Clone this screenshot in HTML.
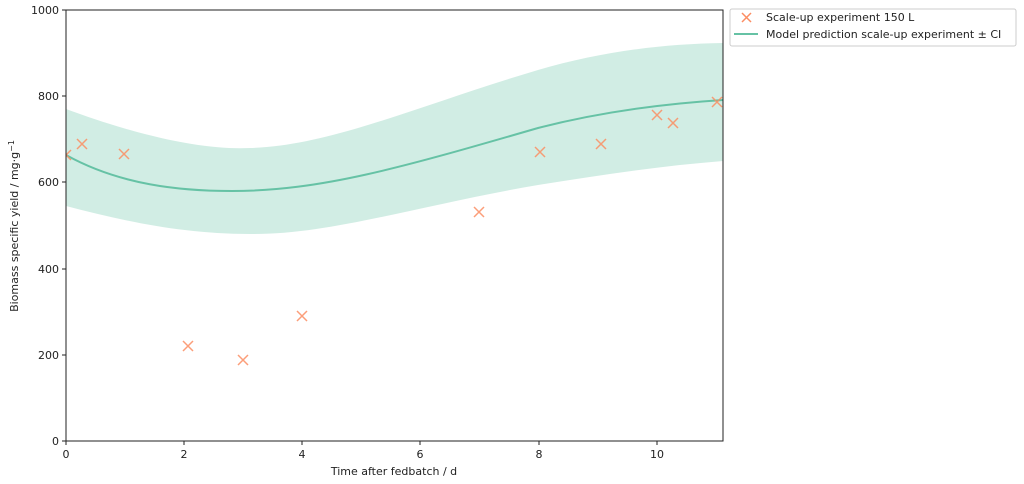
<!DOCTYPE html>
<html><head><style>body{margin:0;background:#fff}svg{display:block}text{font-family:"DejaVu Sans","Liberation Sans",sans-serif;font-size:11px;fill:#222}</style></head>
<body>
<svg width="1024" height="484" viewBox="0 0 1024 484">
<defs><clipPath id="c"><rect x="66" y="10" width="657" height="431"/></clipPath></defs>
<g clip-path="url(#c)">
<path d="M66,109 C150,140 210,150 250,148 C330,146 420,105 538,70 C600,52 660,44 723,43 L723,161 C660,166 600,175 538,185 C420,205 330,235 250,234 C180,234 120,220 66,206 Z" fill="#66c2a5" fill-opacity="0.3"/>
<path d="M66,155 C120,185 180,191 232,191 C320,191 400,168 538,128 C600,112 660,104 723,100" fill="none" stroke="#66c2a5" stroke-width="2"/>
<g stroke="#fc8d62" stroke-opacity="0.85" stroke-width="1.5" fill="none">
<path id="m" d="M-5,-5L5,5M-5,5L5,-5" transform="translate(66,155)"/>
<path d="M-5,-5L5,5M-5,5L5,-5" transform="translate(82,144)"/>
<path d="M-5,-5L5,5M-5,5L5,-5" transform="translate(124,154)"/>
<path d="M-5,-5L5,5M-5,5L5,-5" transform="translate(188,346)"/>
<path d="M-5,-5L5,5M-5,5L5,-5" transform="translate(243,360)"/>
<path d="M-5,-5L5,5M-5,5L5,-5" transform="translate(302,316)"/>
<path d="M-5,-5L5,5M-5,5L5,-5" transform="translate(479,212)"/>
<path d="M-5,-5L5,5M-5,5L5,-5" transform="translate(540,152)"/>
<path d="M-5,-5L5,5M-5,5L5,-5" transform="translate(601,144)"/>
<path d="M-5,-5L5,5M-5,5L5,-5" transform="translate(657,115)"/>
<path d="M-5,-5L5,5M-5,5L5,-5" transform="translate(673,123)"/>
<path d="M-5,-5L5,5M-5,5L5,-5" transform="translate(717,102)"/>
</g>
</g>
<rect x="66" y="10" width="657" height="431" fill="none" stroke="#222" stroke-width="1"/>
<g stroke="#222">
<line x1="66" y1="441" x2="66" y2="445"/><line x1="184" y1="441" x2="184" y2="445"/><line x1="302" y1="441" x2="302" y2="445"/><line x1="420" y1="441" x2="420" y2="445"/><line x1="539" y1="441" x2="539" y2="445"/><line x1="657" y1="441" x2="657" y2="445"/>
<line x1="62" y1="441" x2="66" y2="441"/><line x1="62" y1="355" x2="66" y2="355"/><line x1="62" y1="269" x2="66" y2="269"/><line x1="62" y1="182" x2="66" y2="182"/><line x1="62" y1="96" x2="66" y2="96"/><line x1="62" y1="10" x2="66" y2="10"/>
</g>
<g text-anchor="middle">
<text x="66" y="458">0</text><text x="184" y="458">2</text><text x="302" y="458">4</text><text x="420" y="458">6</text><text x="539" y="458">8</text><text x="657" y="458">10</text>
<text x="394" y="475">Time after fedbatch / d</text>
</g>
<g text-anchor="end">
<text x="59" y="445">0</text><text x="59" y="359">200</text><text x="59" y="273">400</text><text x="59" y="186">600</text><text x="59" y="100">800</text><text x="59" y="14">1000</text>
</g>
<text transform="translate(18,226) rotate(-90)" text-anchor="middle">Biomass specific yield / mg·g<tspan dy="-4" font-size="8">−1</tspan></text>
<rect x="730" y="9" width="286" height="37" rx="2" fill="#fff" stroke="#ccc"/>
<path d="M742,13L751,22M742,22L751,13" stroke="#fc8d62" stroke-width="1.5"/>
<text x="766" y="21">Scale-up experiment 150 L</text>
<line x1="734" y1="34" x2="758" y2="34" stroke="#66c2a5" stroke-width="2"/>
<text x="766" y="38">Model prediction scale-up experiment ± CI</text>
</svg>
</body></html>
